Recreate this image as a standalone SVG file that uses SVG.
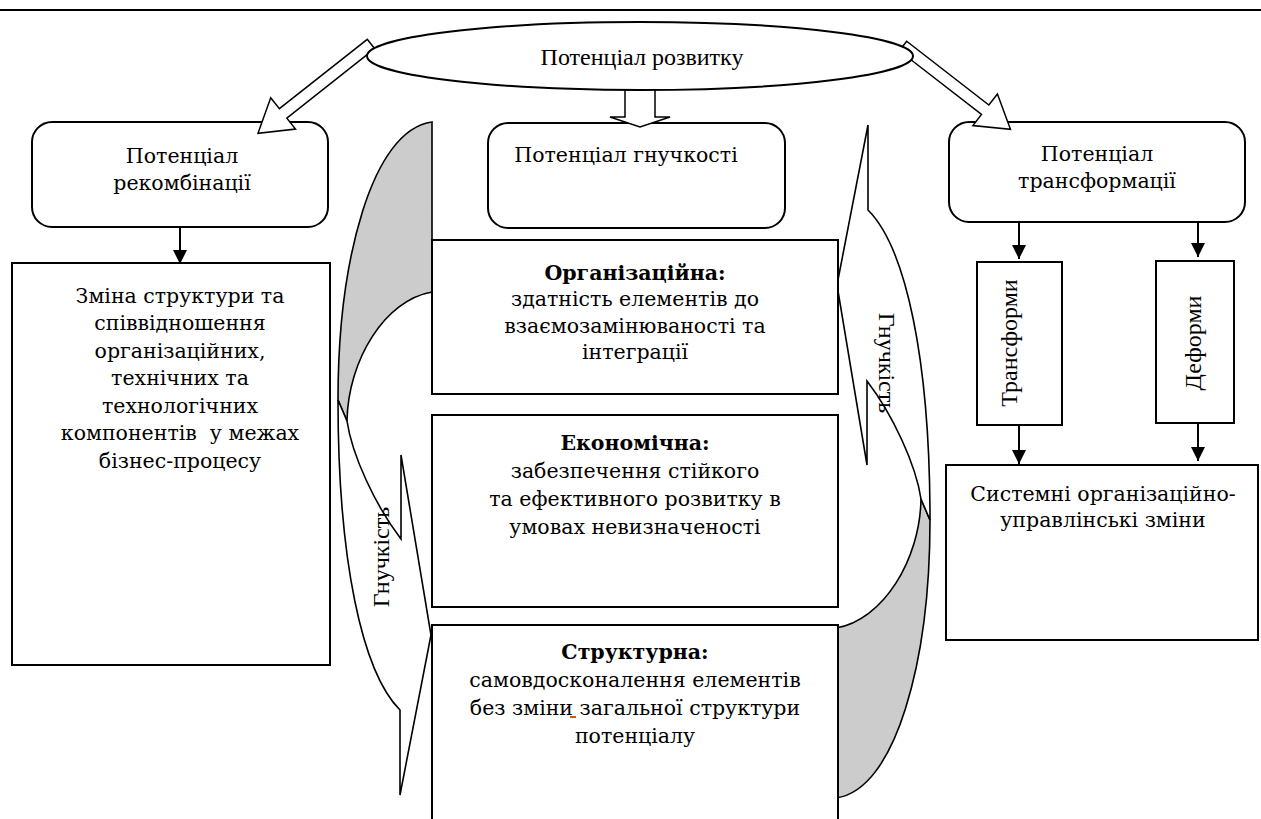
<svg xmlns="http://www.w3.org/2000/svg" width="1261" height="819" viewBox="0 0 1261 819">
<defs>
<style>
.box{fill:#fff;stroke:#000;stroke-width:2}
.blk{fill:#fff;stroke:#000;stroke-width:1.5;stroke-linejoin:miter}
.t{font-family:"DejaVu Serif","Liberation Serif",serif;font-size:20.5px;fill:#000;text-anchor:middle}
.b{font-weight:bold}
.tm{font-family:"Liberation Serif","Times New Roman",serif;font-size:24px;fill:#000;text-anchor:middle}
.ln{stroke:#000;stroke-width:2;fill:none}
.cv{stroke:#000;stroke-width:1.6;stroke-linejoin:miter}
</style>
<marker id="ah" markerWidth="14" markerHeight="14" refX="14" refY="7" orient="auto" markerUnits="userSpaceOnUse"><path d="M0,0 L14,7 L0,14 Z" fill="#000"/></marker>
<g id="curved">
<path class="cv" fill="#cccccc" d="M432,122 C372,130 338,260 338,400 L347,421 C348,360 385,300 432,292 Z"/>
<path class="cv" fill="#fff" d="M338,400 C338,560 362,672 400,710 L400,795 L431,635 L401,455 L401,539 C375,505 352,455 347,421 Z"/>
</g>
</defs>
<line x1="0" y1="10" x2="1261" y2="10" stroke="#000" stroke-width="2"/>
<g id="flex-left">
<use href="#curved"/>
<text class="tm" transform="translate(389,557) rotate(-90)">Гнучкість</text>
</g>
<g id="flex-right">
<use href="#curved" transform="rotate(180 634 460)"/>
<text class="tm" transform="translate(879,363) rotate(90)">Гнучкість</text>
</g>
<g id="recomb">
<rect x="32" y="122" width="296" height="105" rx="20" class="box"/>
<text class="t" x="182" y="163">Потенціал</text>
<text class="t" x="182" y="190">рекомбінації</text>
</g>
<g id="flexibility">
<rect x="488" y="123" width="297" height="105" rx="20" class="box"/>
<text class="t" x="626" y="162">Потенціал гнучкості</text>
</g>
<g id="transform">
<rect x="949" y="122" width="296" height="100" rx="20" class="box"/>
<text class="t" x="1097" y="161">Потенціал</text>
<text class="t" x="1097" y="188">трансформації</text>
</g>
<g id="change">
<rect x="12" y="263" width="318" height="402" class="box"/>
<text class="t" x="180" y="303">Зміна структури та</text>
<text class="t" x="180" y="330">співвідношення</text>
<text class="t" x="180" y="358">організаційних,</text>
<text class="t" x="180" y="385">технічних та</text>
<text class="t" x="180" y="413">технологічних</text>
<text class="t" x="180" y="440" xml:space="preserve">компонентів  у межах</text>
<text class="t" x="180" y="468">бізнес-процесу</text>
</g>
<g id="org">
<rect x="432" y="240" width="406" height="154" class="box"/>
<text class="t b" x="635" y="280">Організаційна:</text>
<text class="t" x="635" y="306">здатність елементів до</text>
<text class="t" x="635" y="333">взаємозамінюваності та</text>
<text class="t" x="635" y="359">інтеграції</text>
</g>
<g id="econ">
<rect x="432" y="415" width="406" height="192" class="box"/>
<text class="t b" x="635" y="450">Економічна:</text>
<text class="t" x="635" y="478">забезпечення стійкого</text>
<text class="t" x="635" y="506">та ефективного розвитку в</text>
<text class="t" x="635" y="534">умовах невизначеності</text>
</g>
<g id="struct">
<rect x="432" y="625" width="406" height="210" class="box"/>
<text class="t b" x="635" y="659">Структурна:</text>
<text class="t" x="635" y="687">самовдосконалення елементів</text>
<text class="t" x="635" y="715">без зміни загальної структури</text>
<text class="t" x="635" y="743">потенціалу</text>
<line x1="570" y1="717" x2="576" y2="717" stroke="#c55a11" stroke-width="2"/>
</g>
<g id="transforms">
<rect x="977" y="262" width="85" height="163" class="box"/>
<text class="tm" font-size="22" transform="translate(1017,343) rotate(-90)">Трансформи</text>
</g>
<g id="deforms">
<rect x="1156" y="261" width="78" height="162" class="box"/>
<text class="tm" transform="translate(1201,343) rotate(-90)">Деформи</text>
</g>
<g id="systemic">
<rect x="946" y="465" width="312" height="175" class="box"/>
<text class="t" x="1103" y="501">Системні організаційно-</text>
<text class="t" x="1103" y="527">управлінські зміни</text>
</g>
<g id="connectors">
<polygon class="blk" points="0,-6 112,-6 112,-20 144,0 112,20 112,6 0,6" transform="translate(371,44) rotate(141.7)"/>
<polygon class="blk" points="0,-6 104,-6 104,-20 136,0 104,20 104,6 0,6" transform="translate(903,46) rotate(37.8)"/>
<polygon class="blk" points="625,80 655,80 655,117 670,117 640,127 610,117 625,117"/>
<line class="ln" x1="180" y1="228" x2="180" y2="264" marker-end="url(#ah)"/>
<line class="ln" x1="1019" y1="223" x2="1019" y2="259" marker-end="url(#ah)"/>
<line class="ln" x1="1198" y1="223" x2="1198" y2="257" marker-end="url(#ah)"/>
<line class="ln" x1="1019" y1="426" x2="1019" y2="464" marker-end="url(#ah)"/>
<line class="ln" x1="1198" y1="424" x2="1198" y2="461" marker-end="url(#ah)"/>
</g>
<g id="root">
<ellipse cx="640" cy="56" rx="273" ry="34" class="box" stroke-width="1.6"/>
<text class="tm" x="642" y="65">Потенціал розвитку</text>
</g>
</svg>
